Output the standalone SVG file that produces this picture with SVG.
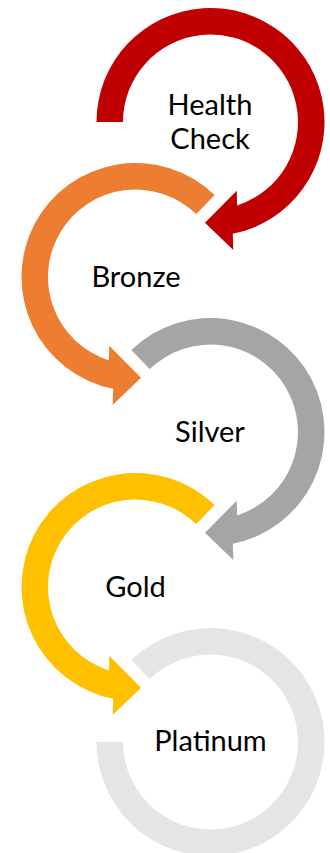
<svg xmlns="http://www.w3.org/2000/svg" width="330" height="853" viewBox="0 0 330 853">
  <style>
    .lbl { font-family: Lato, "Open Sans", "Liberation Sans", sans-serif; font-size: 29px; fill: #000; text-anchor: middle; }
    .red { fill: #C00000; }
    .orange { fill: #ED7D31; }
    .grey { fill: #A5A5A5; }
    .gold { fill: #FFC000; }
    .plat { fill: #E5E5E5; }
  </style>
  <rect width="330" height="853" fill="#FFFFFF"/>
  <g id="connectors"></g>
  <g id="node-health-check">
    <path class="red" d="M 96.5 122 A 114 114 0 1 1 232.8 233.8 L 233.3 250 L 205 222.7 L 236.7 190.7 L 237.1 205.4 A 87.5 87.5 0 1 0 123 122 Z"/>
    <text class="lbl" x="210" y="115">Health</text>
    <text class="lbl" x="210" y="148.5">Check</text>
  </g>
  <g id="node-bronze">
    <path class="orange" d="M 214.7 195 A 114 114 0 1 0 113.2 388.8 L 112.7 405 L 141 377.7 L 109.3 345.7 L 108.9 360.4 A 87.5 87.5 0 1 1 196.3 214.1 Z"/>
    <text class="lbl" x="136" y="286.7">Bronze</text>
  </g>
  <g id="node-silver">
    <path class="grey" d="M 131.3 350 A 114 114 0 1 1 232.8 543.8 L 233.3 560 L 205 532.7 L 236.7 500.7 L 237.1 515.4 A 87.5 87.5 0 1 0 149.7 369.1 Z"/>
    <text class="lbl" x="210" y="441.7">Silver</text>
  </g>
  <g id="node-gold">
    <path class="gold" d="M 214.7 505 A 114 114 0 1 0 113.2 698.8 L 112.7 715 L 141 687.7 L 109.3 655.7 L 108.9 670.4 A 87.5 87.5 0 1 1 196.3 524.1 Z"/>
    <text class="lbl" x="135.5" y="596.7">Gold</text>
  </g>
  <g id="node-platinum">
    <path class="plat" d="M 131.3 660 A 114 114 0 1 1 96.5 742 L 123 742 A 87.5 87.5 0 1 0 149.7 679.1 Z"/>
    <text class="lbl" x="210.5" y="751">Platinum</text>
  </g>
</svg>
